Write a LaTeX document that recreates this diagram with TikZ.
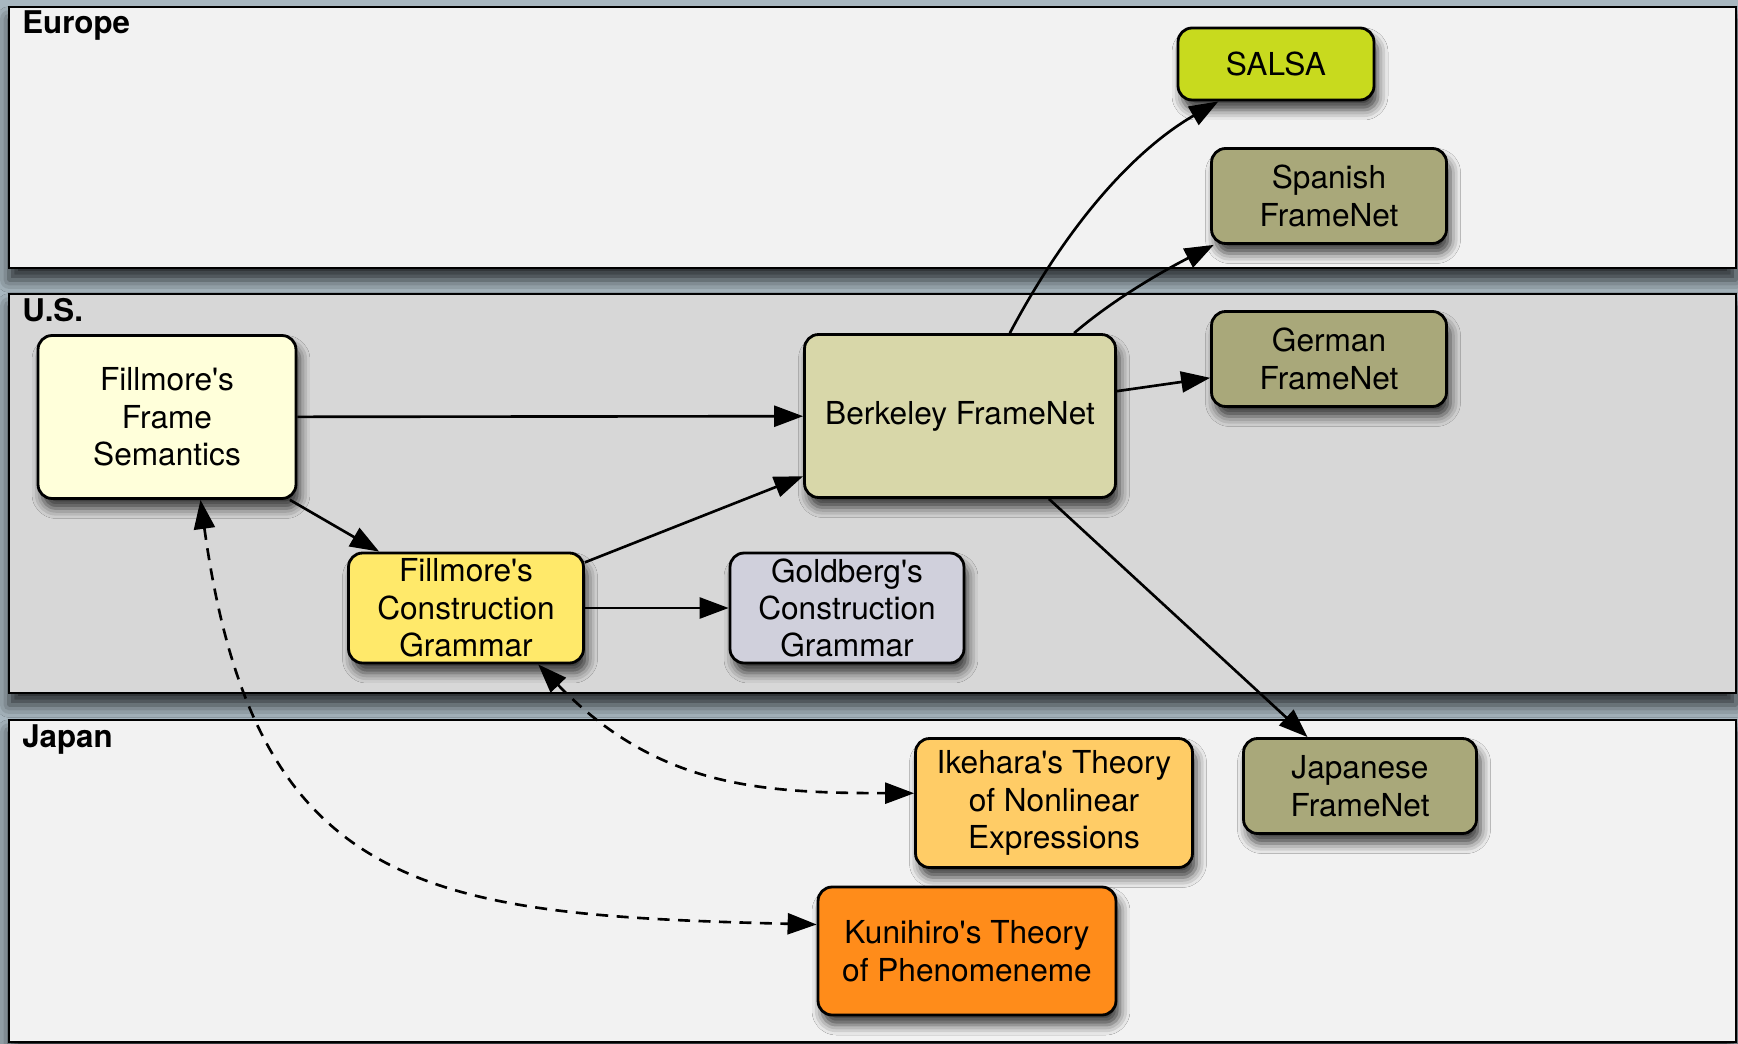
\documentclass[tikz,border=0pt]{standalone}
\usepackage{fontspec}
\setmainfont{TeX Gyre Heros}[Ligatures=TeXOff]
\usetikzlibrary{arrows.meta,shadows.blur}

\definecolor{bggrey}{RGB}{168,183,192}
\definecolor{zonelight}{RGB}{242,242,242}
\definecolor{zonedark}{RGB}{215,215,215}
\definecolor{salsacol}{RGB}{200,218,30}
\definecolor{fnolive}{RGB}{169,168,122}
\definecolor{berkcol}{RGB}{216,215,169}
\definecolor{semcol}{RGB}{255,255,218}
\definecolor{cxgcol}{RGB}{255,233,106}
\definecolor{goldcol}{RGB}{208,208,220}
\definecolor{ikecol}{RGB}{255,204,102}
\definecolor{kuncol}{RGB}{255,140,26}

\tikzset{
  zone/.style={draw=black, line width=1.6pt,
    blur shadow={shadow xshift=0pt, shadow yshift=-0.24cm, shadow blur radius=0.25cm, shadow opacity=75}},
  zonelabel/.style={anchor=base west, inner sep=0pt, font=\bfseries\fontsize{17.8pt}{21pt}\selectfont},
  box/.style={draw=black, line width=1.6pt, rounded corners=0.28cm, align=center, inner sep=0pt,
    font=\fontsize{18pt}{21.3pt}\selectfont,
    blur shadow={shadow xshift=0.08cm, shadow yshift=-0.2cm, shadow blur radius=0.2cm, shadow opacity=75}},
  tip/.tip={Triangle[length=0.58cm,width=0.42cm,fill=black]},
  link/.style={draw=black, line width=1.5pt, -tip},
  dlink/.style={link, tip-tip, dash pattern=on 0.24cm off 0.17cm}
}

\begin{document}
\begin{tikzpicture}[x=0.02cm, y=-0.02cm]
  \useasboundingbox (0,0) rectangle (1738,1044);
  \fill[bggrey] (0,0) rectangle (1738,1044);

  % the three regions
  \draw[zone, fill=zonelight] (9,7) rectangle (1736,268);
  \draw[zone, fill=zonedark] (9,294) rectangle (1736,693);
  \draw[zone, fill=zonelight] (9,720) rectangle (1736,1042);

  \node[zonelabel] (europe) at (22,34) {Europe};
  \node[zonelabel] (us) at (22,321) {U.S.};
  \node[zonelabel] (japan) at (22,747) {Japan};

  % U.S.
  \node[box, fill=semcol, minimum width=5.16cm, minimum height=3.26cm] (fs) at (167,417) {Fillmore's\\Frame\\Semantics};
  \node[box, fill=berkcol, minimum width=6.22cm, minimum height=3.26cm] (bfn) at (960,416) {Berkeley FrameNet};
  \node[box, fill=cxgcol, minimum width=4.7cm, minimum height=2.2cm] (fcg) at (466,608) {Fillmore's\\Construction\\Grammar};
  \node[box, fill=goldcol, minimum width=4.68cm, minimum height=2.2cm] (gcg) at (847,608) {Goldberg's\\Construction\\Grammar};
  \node[box, fill=fnolive, minimum width=4.7cm, minimum height=1.9cm] (german) at (1329,359) {German\\FrameNet};

  % Europe
  \node[box, fill=salsacol, minimum width=3.92cm, minimum height=1.44cm] (salsa) at (1276,64) {SALSA};
  \node[box, fill=fnolive, minimum width=4.7cm, minimum height=1.9cm] (spanish) at (1329,196) {Spanish\\FrameNet};

  % Japan
  \node[box, fill=ikecol, minimum width=5.54cm, minimum height=2.58cm] (ike) at (1054,803) {Ikehara's Theory\\of Nonlinear\\Expressions};
  \node[box, fill=fnolive, minimum width=4.66cm, minimum height=1.9cm] (jfn) at (1360,786) {Japanese\\FrameNet};
  \node[box, fill=kuncol, minimum width=5.96cm, minimum height=2.56cm] (kun) at (967,951) {Kunihiro's Theory\\of Phenomeneme};

  \draw[link] (fs) -- (bfn);
  \draw[link] (fs.-34) -- (fcg.147);
  \draw[link] (fcg.21) -- (bfn.201);
  \draw[link] (fcg) -- (gcg);
  \draw[link] (bfn.59) .. controls (1086,190) and (1160,135) .. (salsa.-147);
  \draw[link] (bfn.36) .. controls (1115,298) and (1165,270) .. (spanish.203);
  \draw[link] (bfn.9) -- (german.189);
  \draw[link] (bfn.-43) -- (jfn.137);

  \draw[dlink] (fcg.-38) .. controls (657,787) and (760,793) .. (ike.176);
  \draw[dlink] (fs.-68) .. controls (255,895) and (430,915) .. (kun.170);
\end{tikzpicture}
\end{document}
